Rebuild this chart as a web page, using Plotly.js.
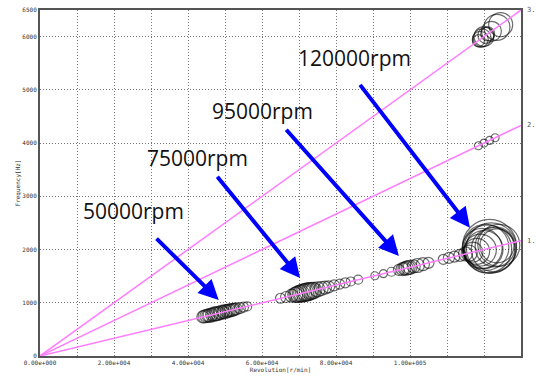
<!DOCTYPE html>
<html>
<head>
<meta charset="utf-8">
<script src="https://cdn.plot.ly/plotly-3.0.1.min.js"></script>
<style>html,body{margin:0;padding:0;background:#fff;}#chart{width:536px;height:376px;}</style>
</head>
<body>
<div id="chart"></div>
<script>
// ---- Data ----
// 1st order bubbles (revolution [r/min], frequency [Hz], amplitude size)
const order1Rpm  = [44000,44500,45000,45500,46000,46500,47000,47500,48000,48500,49000,49500,50000,50500,51000,51500,52000,52500,53000,54000,55000,56000,
                    65000,66500,68000,69000,69500,70000,70500,71000,71500,72000,72500,73000,73500,74000,75000,76000,77000,78000,79500,81000,82500,84000,86000,
                    90500,92800,95000,97000,98000,98500,99000,99500,100000,101000,102000,103500,105000,
                    109000,110500,112000,113500,115000,116000,117000,118000,119000,119500,120000,120500,121000,121500,122000,122500,123000,123500,124000];
const order1Freq = [735,742,752,758,765,775,785,792,798,808,818,825,832,842,851,858,866,875,884,899,918,932,
                    1085,1108,1133,1150,1158,1168,1175,1183,1192,1200,1208,1218,1225,1232,1250,1268,1283,1300,1325,1350,1375,1400,1433,
                    1508,1547,1583,1617,1633,1642,1650,1658,1667,1683,1700,1725,1750,
                    1817,1842,1867,1892,1917,1933,1950,1967,1990,2020,2000,2040,2010,2060,2030,2000,2050,2070,2080];
const order1Amp  = [12,13,13,13,14,13,14,14,14,13,14,13,14,13,13,13,13,12,12,11,10,9,
                    10,11,13,15,16,17,17,18,18,18,18,17,17,16,15,14,13,12,11,10,10,9,9,
                    8,8,9,11,13,13,14,14,14,13,14,13,11,
                    10,11,11,12,14,16,20,26,32,40,38,46,48,54,50,44,40,34,42];
// 2nd order bubbles
const order2Rpm  = [118500,120000,121500,123000];
const order2Freq = [3950,4000,4050,4100];
const order2Amp  = [8,8,8,8];
// 3rd order bubbles
const order3Rpm  = [118500,119000,119500,120000,120500,121000,122000,123500,124500];
const order3Freq = [5925,5950,5975,6000,6025,6050,6100,6175,6225];
const order3Amp  = [12,16,18,20,16,14,20,26,24];
// order lines
const orderLineX = [0, 130000];
const order1Line = [0, 2167];
const order2Line = [0, 4333];
const order3Line = [0, 6500];
const orderLabels = ['1.', '2.', '3.'];
// axis ticks
const xTickVals = [0,10000,20000,30000,40000,50000,60000,70000,80000,90000,100000,110000,120000,130000];
const xTickText = ['0.00e+000','','2.00e+004','','4.00e+004','','6.00e+004','','8.00e+004','','1.00e+005','','','1.30e+005'];
const yTickVals = [0,1000,2000,3000,4000,5000,6000,6500];
const yTickText = ['0','1000','2000','3000','4000','5000','6000','6500'];
// speed call-outs
const callText = ['50000rpm','75000rpm','95000rpm','120000rpm'];
const callTextX = [25400, 42700, 60000, 85100];
const callTextY = [2720, 3715, 4597, 5591];
const arrowTailX = [31100, 47600, 66200, 86200];
const arrowTailY = [2233, 3396, 4278, 5122];
const arrowTipX  = [48300, 70300, 97000, 116200];
const arrowTipY  = [1051, 1463, 1880, 2410];

// ---- Traces ----
const bubble = (x, y, s) => ({
  type: 'scatter', mode: 'markers', x: x, y: y, hoverinfo: 'skip',
  marker: {symbol: 'circle-open', size: s, color: 'rgba(10,10,10,0.85)', line: {width: 1.2}}
});
const oline = (y) => ({
  type: 'scatter', mode: 'lines', x: orderLineX, y: y, hoverinfo: 'skip',
  line: {color: '#ff7cff', width: 1.5}
});
const data = [
  bubble(order1Rpm, order1Freq, order1Amp),
  bubble(order2Rpm, order2Freq, order2Amp),
  bubble(order3Rpm, order3Freq, order3Amp),
  oline(order1Line), oline(order2Line), oline(order3Line)
];

const annotations = [];
for (let i = 0; i < callText.length; i++) {
  annotations.push({
    x: callTextX[i], y: callTextY[i], xref: 'x', yref: 'y', text: callText[i], showarrow: false,
    font: {family: 'Open Sans, sans-serif', size: 21, color: '#111'}
  });
  annotations.push({
    x: arrowTipX[i], y: arrowTipY[i], xref: 'x', yref: 'y',
    ax: arrowTailX[i], ay: arrowTailY[i], axref: 'x', ayref: 'y',
    text: '', showarrow: true, arrowhead: 2, arrowsize: 1, arrowwidth: 4, arrowcolor: '#0000ff'
  });
}
const lineEnds = [order1Line[1], order2Line[1], order3Line[1]];
for (let i = 0; i < orderLabels.length; i++) {
  annotations.push({
    x: 1, xref: 'paper', xanchor: 'left', xshift: 4, y: lineEnds[i], yref: 'y',
    text: orderLabels[i], showarrow: false,
    font: {family: 'DejaVu Sans Mono, monospace', size: 7, color: '#555'}
  });
}

const axFont = {family: 'DejaVu Sans Mono, monospace', size: 6, color: '#333'};
const layout = {
  width: 536, height: 376,
  margin: {l: 40, r: 15, t: 10, b: 20},
  paper_bgcolor: '#fff', plot_bgcolor: '#fff',
  showlegend: false,
  xaxis: {
    range: [0, 130000], tickmode: 'array', tickvals: xTickVals, ticktext: xTickText,
    showgrid: true, gridcolor: '#777', griddash: '1px,2px', gridwidth: 1,
    zeroline: false, showline: true, mirror: true, linecolor: '#555', linewidth: 2,
    ticks: '', ticklen: 0, tickfont: axFont,
    title: {text: 'Revolution[r/min]', standoff: 0, font: axFont},
    automargin: false
  },
  yaxis: {
    range: [0, 6500], tickmode: 'array', tickvals: yTickVals, ticktext: yTickText,
    showgrid: true, gridcolor: '#777', griddash: '1px,2px', gridwidth: 1,
    zeroline: false, showline: true, mirror: true, linecolor: '#555', linewidth: 2,
    ticks: '', ticklen: 0, tickfont: axFont,
    title: {text: 'Frequency[Hz]', standoff: 0, font: axFont},
    automargin: false
  },
  annotations: annotations
};

Plotly.newPlot('chart', data, layout, {staticPlot: true, displayModeBar: false});
</script>
</body>
</html>
